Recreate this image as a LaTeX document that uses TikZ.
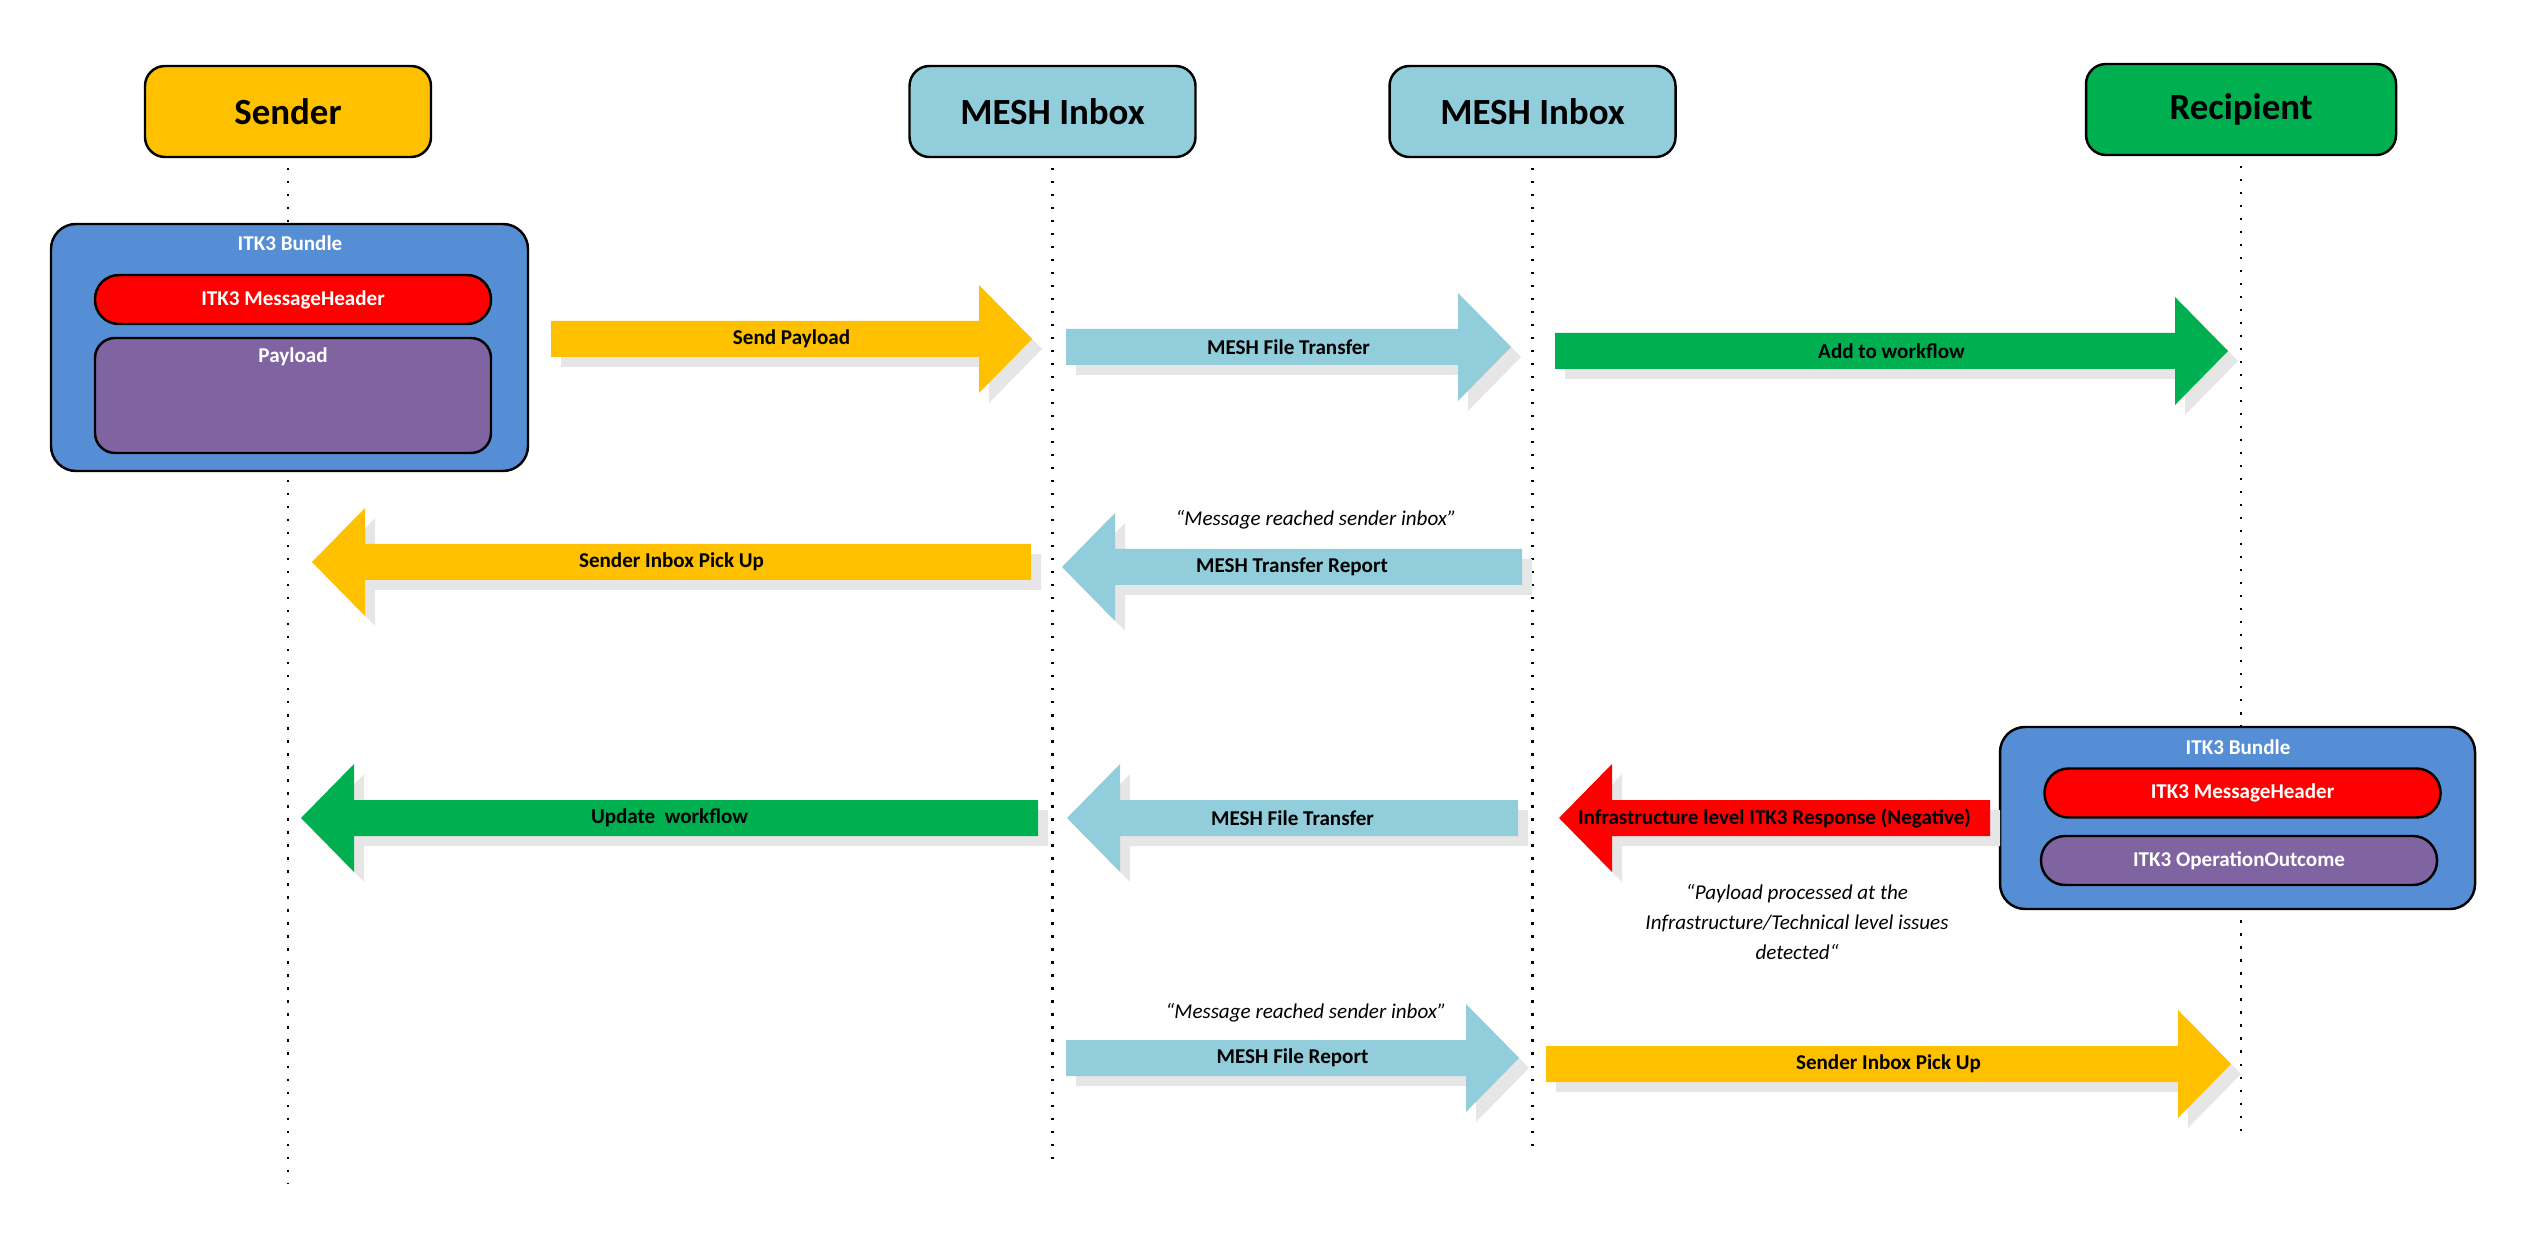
\documentclass[tikz,border=0pt]{standalone}
\usepackage{fontspec}
\setmainfont{Carlito}
\usepackage{tikz}
\usetikzlibrary{positioning, calc, shadows}
\definecolor{senderyellow}{HTML}{FFC000}
\definecolor{meshblue}{HTML}{92CDDC}
\definecolor{recipgreen}{HTML}{00B050}
\definecolor{bundleblue}{HTML}{558ED5}
\definecolor{payloadpurple}{HTML}{8064A2}
\definecolor{shadowgrey}{HTML}{E6E6E6}
\tikzset{
actor/.style = { rectangle, draw = black, line width = 0.7pt, rounded corners = 2mm, minimum width = 28.6mm, minimum height = 9.1mm, font = \fontsize{10.5}{12}\selectfont\bfseries },
bundle/.style = { rectangle, draw = black, line width = 0.7pt, fill = bundleblue, rounded corners = 2.5mm },
part/.style = { rectangle, draw = black, line width = 0.7pt, rounded corners = 2.4mm, minimum width = 39.6mm, minimum height = 4.9mm, text = white, font = \fontsize{6}{7}\selectfont\bfseries },
lifeline/.style = { line width = 0.6pt, dash pattern = on 0.6pt off 3.1pt },
flow text/.style = { font = \fontsize{6}{7}\selectfont\bfseries },
quote/.style = { font = \fontsize{6}{8.5}\selectfont\itshape, align = center },
}
\tikzset{
flow/.style = { fill = #1, drop shadow = {shadow xshift = 1mm, shadow yshift = -1mm, fill = shadowgrey, opacity = 1} },
right flow/.style = { to path = { ($(\tikztostart)+(0,-18)$) -- ($(\tikztotarget)+(-53,-18)$) -- ($(\tikztotarget)+(-53,-54)$) -- (\tikztotarget) -- ($(\tikztotarget)+(-53,54)$) -- ($(\tikztotarget)+(-53,18)$) -- ($(\tikztostart)+(0,18)$) -- cycle } },
left flow/.style = { to path = { ($(\tikztostart)+(0,-18)$) -- ($(\tikztotarget)+(53,-18)$) -- ($(\tikztotarget)+(53,-54)$) -- (\tikztotarget) -- ($(\tikztotarget)+(53,54)$) -- ($(\tikztotarget)+(53,18)$) -- ($(\tikztostart)+(0,18)$) -- cycle } },
}

\begin{document}
\begin{tikzpicture}[x=0.1mm, y=-0.1mm]
      \useasboundingbox (0,0) rectangle (2527,1235);
      % participants
      \node[actor, fill = senderyellow] (sender) at (288,111.5) {Sender};
      \node[actor, fill = meshblue] (mesh1) at (1052.5,111.5) {MESH Inbox};
      \node[actor, fill = meshblue] (mesh2) at (1532.5,111.5) {MESH Inbox};
      \node[actor, fill = recipgreen, minimum width = 31mm] (recipient) at (2241,109.5) {Recipient};
      \coordinate (sender-end) at (288,1183);
      \coordinate (mesh1-end) at (1052.5,1162);
      \coordinate (mesh2-end) at (1532.5,1156);
      \coordinate (recipient-end) at (2241,1140);
      \draw[lifeline] ([yshift=-1mm]sender.south) -- (sender-end);
      \draw[lifeline] ([yshift=-1mm]mesh1.south) -- (mesh1-end);
      \draw[lifeline] ([yshift=-1mm]mesh2.south) -- (mesh2-end);
      \draw[lifeline] ([yshift=-1mm]recipient.south) -- (recipient-end);

      % bundles
      \node[bundle, minimum width = 47.7mm, minimum height = 24.7mm] (bundle1) at (289.5,347.5) {};
      \node[white, flow text] (bundle1-t) at (290,243) {ITK3 Bundle};
      \node[part, fill = red] (header1) at (293,299.5) {ITK3 MessageHeader};
      \node[rectangle, draw = black, line width = 0.7pt, fill = payloadpurple, rounded corners = 2mm, minimum width = 39.6mm, minimum height = 11.5mm] (payload) at (293,395.5) {};
      \node[white, flow text] (payload-t) at (293,357) {Payload};

      \node[bundle, minimum width = 47.5mm, minimum height = 18.2mm] (bundle2) at (2237.5,818) {};
      \node[white, flow text] (bundle2-t) at (2238,747) {ITK3 Bundle};
      \node[part, fill = red] (header2) at (2242.5,793) {ITK3 MessageHeader};
      \node[part, fill = payloadpurple] (outcome) at (2239,860.5) {ITK3 OperationOutcome};

      % flow ends
      \coordinate (sp-a) at (551,339);   \coordinate (sp-b) at (1032,339);
      \coordinate (ft1-a) at (1066,347); \coordinate (ft1-b) at (1511,347);
      \coordinate (aw-a) at (1555,351);  \coordinate (aw-b) at (2228,351);
      \coordinate (pu1-a) at (1031,562); \coordinate (pu1-b) at (312,562);
      \coordinate (tr-a) at (1522,567);  \coordinate (tr-b) at (1062,567);
      \coordinate (uw-a) at (1038,818);  \coordinate (uw-b) at (301,818);
      \coordinate (ft2-a) at (1518,818); \coordinate (ft2-b) at (1067,818);
      \coordinate (nr-a) at (1990,818);  \coordinate (nr-b) at (1559,818);
      \coordinate (fr-a) at (1066,1058); \coordinate (fr-b) at (1519,1058);
      \coordinate (pu2-a) at (1546,1064); \coordinate (pu2-b) at (2231,1064);

      \path[flow = senderyellow] (sp-a) to[right flow] (sp-b);
      \path[flow = meshblue] (ft1-a) to[right flow] (ft1-b);
      \path[flow = recipgreen] (aw-a) to[right flow] (aw-b);
      \path[flow = senderyellow] (pu1-a) to[left flow] (pu1-b);
      \path[flow = meshblue] (tr-a) to[left flow] (tr-b);
      \path[flow = recipgreen] (uw-a) to[left flow] (uw-b);
      \path[flow = meshblue] (ft2-a) to[left flow] (ft2-b);
      \path[flow = red] (nr-a) to[left flow] (nr-b);
      \path[flow = meshblue] (fr-a) to[right flow] (fr-b);
      \path[flow = senderyellow] (pu2-a) to[right flow] (pu2-b);

      \begin{scope}[every node/.style = {flow text}]
        \node (sp) at ($(sp-a)!0.5!(sp-b)$) {Send Payload};
        \node (ft1) at ($(ft1-a)!0.5!(ft1-b)$) {MESH File Transfer};
        \node (aw) at ($(aw-a)!0.5!(aw-b)$) {Add to workflow};
        \node (pu1) at ($(pu1-a)!0.5!(pu1-b)$) {Sender Inbox Pick Up};
        \node (tr) at ($(tr-a)!0.5!(tr-b)$) {MESH Transfer Report};
        \node (uw) at ($(uw-a)!0.5!(uw-b)$) {Update\ \ workflow};
        \node (ft2) at ($(ft2-a)!0.5!(ft2-b)$) {MESH File Transfer};
        \node (nr) at ($(nr-a)!0.5!(nr-b)$) {Infrastructure level ITK3 Response (Negative)};
        \node (fr) at ($(fr-a)!0.5!(fr-b)$) {MESH File Report};
        \node (pu2) at ($(pu2-a)!0.5!(pu2-b)$) {Sender Inbox Pick Up};
      \end{scope}

      % notes
      \node[quote] (note1) at (1316,520) {“Message reached sender inbox”};
      \node[quote] (note2) at (1797,922) {“Payload processed at the\\Infrastructure/Technical level issues\\detected“};
      \node[quote] (note3) at (1306,1013) {“Message reached sender inbox”};
    \end{tikzpicture}
\end{document}
